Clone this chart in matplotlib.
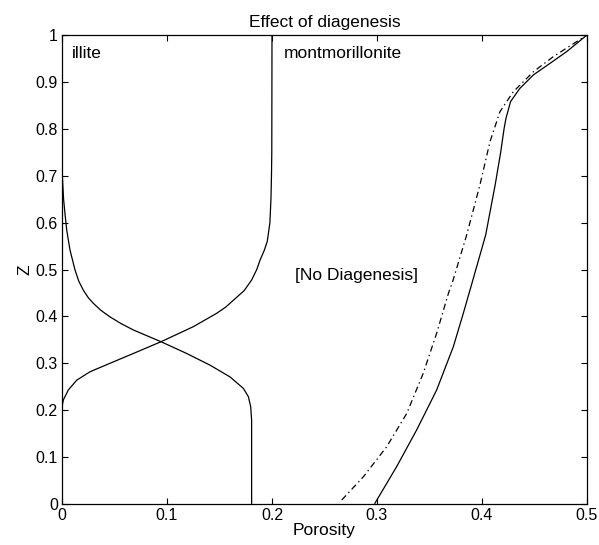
import matplotlib
matplotlib.use("Agg")
import matplotlib.pyplot as plt

plt.rcParams['font.family'] = ['Liberation Sans', 'DejaVu Sans']
plt.rcParams['lines.scale_dashes'] = False

# Illite curve (porosity vs Z)
illite_z = [1.0, 0.73, 0.70, 0.65, 0.62, 0.584, 0.5416, 0.499, 0.475, 0.456, 0.44, 0.428, 0.413, 0.399,
            0.385, 0.371, 0.346, 0.321, 0.296, 0.271, 0.2466, 0.2288, 0.2075, 0.179, 0.0]
illite_x = [0.0, 0.0, 0.0003, 0.0015, 0.0028, 0.0045, 0.0076, 0.0124, 0.016, 0.0203, 0.025, 0.0298, 0.037, 0.0457,
            0.056, 0.068, 0.0943, 0.1187, 0.141, 0.160, 0.1727, 0.1775, 0.1797, 0.1806, 0.1806]

# Montmorillonite curve
mont_z = [1.0, 0.75, 0.70, 0.65, 0.60, 0.56, 0.54, 0.520, 0.50, 0.4776, 0.455, 0.435, 0.42, 0.4066, 0.378, 0.346,
          0.321, 0.300, 0.282, 0.264, 0.243, 0.222, 0.207, 0.0]
mont_x = [0.2, 0.1998, 0.1995, 0.199, 0.198, 0.1955, 0.1925, 0.1886, 0.1855, 0.1806, 0.1735, 0.1635, 0.156, 0.1473, 0.125, 0.0943,
          0.068, 0.0457, 0.0267, 0.014, 0.006, 0.0013, 0.0, 0.0]

# No diagenesis (solid)
nodia_z = [0.0015, 0.0796, 0.158, 0.243, 0.3354, 0.4066, 0.4634, 0.5736, 0.680, 0.75, 0.80,
           0.822, 0.858, 0.886, 0.915, 0.9396, 0.9645, 1.0]
nodia_x = [0.298, 0.3187, 0.3378, 0.3568, 0.3727, 0.3822, 0.3895, 0.4035, 0.4125, 0.4178, 0.421,
           0.4228, 0.4272, 0.436, 0.449, 0.4648, 0.4806, 0.5]

# With diagenesis (dash-dot)
dia_z = [0.0085, 0.058, 0.122, 0.193, 0.2786, 0.364, 0.449, 0.4776, 0.5736, 0.680,
         0.7725, 0.8365, 0.879, 0.9218, 0.954, 1.0]
dia_x = [0.2664, 0.287, 0.3092, 0.3283, 0.344, 0.3568, 0.368, 0.3725, 0.3854, 0.398,
         0.4076, 0.4171, 0.4298, 0.449, 0.468, 0.5]

xticks = [0, 0.1, 0.2, 0.3, 0.4, 0.5]
xtick_labels = ['0', '0.1', '0.2', '0.3', '0.4', '0.5']
yticks = [0, 0.1, 0.2, 0.3, 0.4, 0.5, 0.6, 0.7, 0.8, 0.9, 1.0]
ytick_labels = ['0', '0.1', '0.2', '0.3', '0.4', '0.5', '0.6', '0.7', '0.8', '0.9', '1']

fig = plt.figure(figsize=(5.99, 5.45), dpi=100)
ax = fig.add_axes([62/599, 41/545, (587-62)/599, (504-35)/545])

lw = 0.9
ax.plot(illite_x, illite_z, color='black', lw=lw)
ax.plot(mont_x, mont_z, color='black', lw=lw)
ax.plot(nodia_x, nodia_z, color='black', lw=lw)
ax.plot(dia_x, dia_z, color='black', lw=lw, linestyle=(0, (4.5, 2.5, 1, 2.5)))

ax.set_xlim(0, 0.5)
ax.set_ylim(0, 1)
ax.set_xticks(xticks)
ax.set_xticklabels(xtick_labels)
ax.set_yticks(yticks)
ax.set_yticklabels(ytick_labels)
ax.tick_params(direction='in', length=4, width=0.8, top=True, right=True,
               labelsize=11.5, pad=3, colors='black')
for s in ax.spines.values():
    s.set_linewidth(0.9)

fs = 12.5
ax.text(0.0092, 0.961, 'illite', fontsize=fs, va='center', ha='left')
ax.text(0.2108, 0.961, 'montmorillonite', fontsize=fs, va='center', ha='left')
ax.text(0.222, 0.488, '[No Diagenesis]', fontsize=fs, va='center', ha='left')
ax.set_title('Effect of diagenesis', fontsize=fs, pad=6)
ax.set_xlabel('Porosity', fontsize=fs, labelpad=0)
ax.set_ylabel('Z', fontsize=fs, labelpad=2)

fig.savefig('out.png', dpi=100)
